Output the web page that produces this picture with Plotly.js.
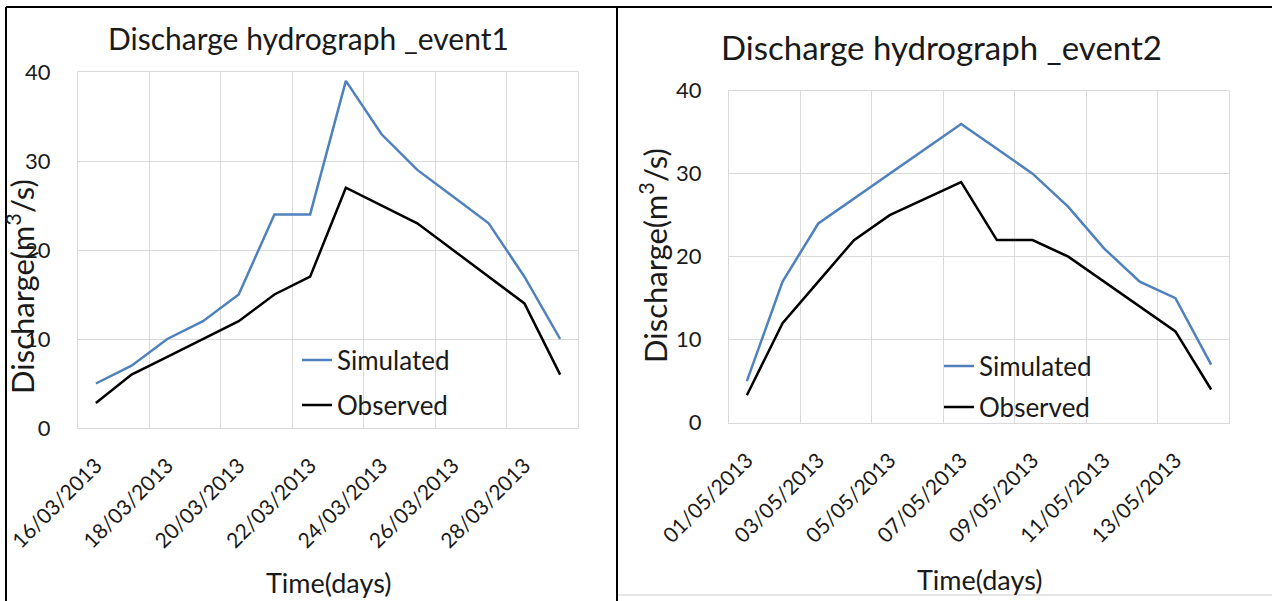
<!DOCTYPE html>
<html>
<head>
<meta charset="utf-8">
<script src="https://cdn.plot.ly/plotly-3.0.1.min.js"></script>
<style>html,body{margin:0;padding:0;background:#fff;}#chart{width:1272px;height:601px;}</style>
</head>
<body>
<div id="chart"></div>
<script>
// ---- data ----
const dates1 = ['2013-03-16','2013-03-17','2013-03-18','2013-03-19','2013-03-20','2013-03-21','2013-03-22',
                '2013-03-23','2013-03-24','2013-03-25','2013-03-26','2013-03-27','2013-03-28','2013-03-29'];
const simulated1 = [5, 7, 10, 12, 15, 24, 24, 39, 33, 29, 26, 23, 17, 10];
const observed1  = [2.8, 6, 8, 10, 12, 15, 17, 27, 25, 23, 20, 17, 14, 6];

const dates2 = ['2013-05-01','2013-05-02','2013-05-03','2013-05-04','2013-05-05','2013-05-06','2013-05-07',
                '2013-05-08','2013-05-09','2013-05-10','2013-05-11','2013-05-12','2013-05-13','2013-05-14'];
const simulated2 = [5, 17, 24, 27, 30, 33, 36, 33, 30, 26, 21, 17, 15, 7];
const observed2  = [3.3, 12, 17, 22, 25, 27, 29, 22, 22, 20, 17, 14, 11, 4];

const seriesNames = ['Simulated', 'Observed'];
const titles = ['Discharge hydrograph _event1', 'Discharge hydrograph _event2'];
const yTitle = 'Discharge(m<sup>3</sup>/s)';
const xTitle = 'Time(days)';

// ---- layout helpers ----
const W = 1272, H = 601, DAY = 86400000;
const px = v => v / W;
const py = v => (H - v) / H;
const BLUE = '#4f81bd', BLACK = '#000000', GRID = '#d9d9d9';

function xAxis(domain, anchor, range, tick0, minor0) {
  return {
    type: 'date', domain: domain, anchor: anchor, range: range,
    tickmode: 'linear', tick0: tick0, dtick: 2 * DAY, tickformat: '%d/%m/%Y',
    tickangle: -45, ticks: '', showgrid: false,
    minor: {tickmode: 'linear', tick0: minor0, dtick: 2 * DAY, showgrid: true, gridcolor: GRID, gridwidth: 1, ticks: ''},
    showline: true, mirror: true, linecolor: GRID, linewidth: 1,
    tickfont: {size: 21, color: '#1a1a1a'}, ticklabelstandoff: 16, fixedrange: true
  };
}
function yAxis(domain, anchor) {
  return {
    domain: domain, anchor: anchor, range: [0, 40], tickmode: 'linear', tick0: 0, dtick: 10,
    showgrid: true, gridcolor: GRID, gridwidth: 1, zeroline: false,
    showline: true, mirror: true, linecolor: GRID, linewidth: 1, ticks: '',
    tickfont: {size: 22, color: '#1a1a1a'}, ticklabelstandoff: 22, fixedrange: true
  };
}

const traces = [
  {x: dates1, y: simulated1, name: seriesNames[0], type: 'scatter', mode: 'lines', line: {color: BLUE, width: 2.5}, xaxis: 'x', yaxis: 'y', legend: 'legend', showlegend: true},
  {x: dates1, y: observed1,  name: seriesNames[1], type: 'scatter', mode: 'lines', line: {color: BLACK, width: 2.5}, xaxis: 'x', yaxis: 'y', legend: 'legend2', showlegend: true},
  {x: dates2, y: simulated2, name: seriesNames[0], type: 'scatter', mode: 'lines', line: {color: BLUE, width: 2.5}, xaxis: 'x2', yaxis: 'y2', legend: 'legend3', showlegend: true},
  {x: dates2, y: observed2,  name: seriesNames[1], type: 'scatter', mode: 'lines', line: {color: BLACK, width: 2.5}, xaxis: 'x2', yaxis: 'y2', legend: 'legend4', showlegend: true}
];

function legendAt(x, y) {
  return {x: px(x), y: py(y), xanchor: 'left', yanchor: 'middle', bgcolor: 'rgba(0,0,0,0)',
          borderwidth: 0, font: {size: 26, color: '#1a1a1a'}};
}
function ann(text, x, y, size, angle) {
  return {text: text, x: px(x), y: py(y), xref: 'paper', yref: 'paper', showarrow: false,
          xanchor: 'center', yanchor: 'middle', textangle: angle || 0, font: {size: size, color: '#1a1a1a'}};
}

const layout = {
  width: W, height: H, margin: {l: 0, r: 0, t: 0, b: 0},
  paper_bgcolor: '#ffffff', plot_bgcolor: '#ffffff',
  showlegend: true,
  font: {family: 'Lato, "Open Sans", sans-serif', color: '#1a1a1a'},
  xaxis:  xAxis([px(78), px(578)], 'y', ['2013-03-15 12:00', '2013-03-29 12:00'], '2013-03-16', '2013-03-15 12:00'),
  yaxis:  yAxis([py(428), py(72)], 'x'),
  xaxis2: xAxis([px(729), px(1229)], 'y2', ['2013-04-30 12:00', '2013-05-14 12:00'], '2013-05-01', '2013-04-30 12:00'),
  yaxis2: yAxis([py(422.7), py(90.7)], 'x2'),
  legend:  legendAt(297, 360),
  legend2: legendAt(297, 405),
  legend3: legendAt(939, 366),
  legend4: legendAt(939, 407),
  annotations: [
    ann(titles[0], 308, 38, 30),
    ann(titles[1], 941, 47, 33),
    ann(yTitle, 20, 287, 31, -90),
    ann(yTitle, 654, 256, 31, -90),
    ann(xTitle, 328, 582, 27),
    ann(xTitle, 979, 579, 27)
  ],
  shapes: [
    {type: 'line', xref: 'paper', yref: 'paper', x0: px(6), x1: px(1272), y0: py(7), y1: py(7), line: {color: '#000', width: 2}},
    {type: 'line', xref: 'paper', yref: 'paper', x0: px(6), x1: px(6), y0: py(7), y1: py(601), line: {color: '#000', width: 2}},
    {type: 'line', xref: 'paper', yref: 'paper', x0: px(617), x1: px(617), y0: py(7), y1: py(601), line: {color: '#000', width: 2}},
    {type: 'line', xref: 'paper', yref: 'paper', x0: px(618), x1: px(1272), y0: py(595), y1: py(595), line: {color: '#e6e6e6', width: 2}}
  ]
};

Plotly.newPlot('chart', traces, layout, {displayModeBar: false, staticPlot: true});
</script>
</body>
</html>
